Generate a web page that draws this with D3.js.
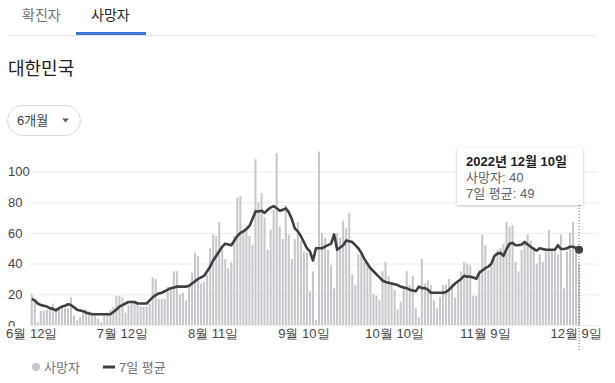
<!DOCTYPE html>
<html><head><meta charset="utf-8">
<script src="https://cdn.jsdelivr.net/npm/d3@7"></script>
<style>
body{margin:0;background:#fff;}
svg{display:block;font-family:"Liberation Sans",Arial,"Noto Sans CJK KR",sans-serif;}
</style></head><body>
<svg id="c" width="615" height="383"></svg>
<script>
// ---- data ----
const startDay = "2022-06-12";
const endDay = "2022-12-10";
const deaths = [
20,16,2,9,9,10,11,14,11,11,13,11,11,18,6,3,5,8,10,9,
8,8,4,2,6,8,10,12,19,19,18,8,13,16,15,13,12,12,12,14,
31,30,17,17,17,25,24,35,35,20,21,16,26,34,47,45,27,28,33,50,
59,58,67,49,43,37,41,58,83,84,61,65,58,52,108,80,86,70,49,62,
75,112,64,56,78,59,43,56,67,55,48,47,22,35,3,113,60,57,49,39,
24,60,57,68,63,73,33,26,46,46,41,40,38,20,19,16,35,41,32,28,
23,10,15,25,35,26,32,11,5,43,27,29,26,16,11,18,26,26,30,27,
18,29,35,41,40,39,19,19,36,59,52,36,40,43,49,50,53,67,64,65,
41,35,49,55,59,55,51,40,46,41,48,62,49,48,46,59,24,48,60,67,
50,40];
const avg7 = [
17,16,14,13,12.5,12,11,10.5,9.5,11,12,12.5,13.5,13,11.5,10,9.5,9,8,7.5,
7,7,7,7,7,7,7,8.5,10,12,13,14,15,15,15,14,14,14,14,16,
18,19.5,20.5,21,22,23,24,24.5,25,25,25,25,25.5,27,28.5,30,31,32,35,38,
42,45,48,51,53,52.5,52,55,58,60,61,62.5,64.5,69,74,74,74.5,73,75,76.5,
77.5,76,74.5,75,76,73.5,69,63,61,58,54,50,48,42,50,50,50,51,52,53,
59,49,50.5,52,55,54.5,54,52,50,47,43,40,37,35,33,31,29,28,27.5,27,
26.5,26,25,24.5,24,23,22.5,22,25,24,24,23,21,21,21,21,21,21.5,23,25,
27,28.5,30,32,31.5,31.5,31,30,34,35.5,37,38,40,45,46.5,47,45,49.5,53,53.5,
52,52,52.5,54,52.5,51,49.5,48.5,50,49.5,49,49,49,49,52,49.5,49.5,50,51,51,
50,49];
const xTickDates = ["2022-06-12","2022-07-12","2022-08-11","2022-09-10","2022-10-10","2022-11-09","2022-12-09"];
const xTickLabels = ["6월 12일","7월 12일","8월 11일","9월 10일","10월 10일","11월 9일","12월 9일"];
const yTicks = [0,20,40,60,80,100];
const tabLabels = ["확진자","사망자"];
const titleText = "대한민국";
const rangeLabel = "6개월";
const legendLabels = ["사망자","7일 평균"];
const tipLines = ["2022년 12월 10일","사망자: 40","7일 평균: 49"];

// ---- drawing ----
const parse = d3.timeParse("%Y-%m-%d");
const days = d3.timeDay.range(parse(startDay), d3.timeDay.offset(parse(endDay),1));
const svg = d3.select("#c");
svg.append("rect").attr("width",615).attr("height",383).attr("fill","#fff");

// tabs
const tabs = svg.append("g");
tabs.append("line").attr("x1",8).attr("x2",596).attr("y1",35.5).attr("y2",35.5).attr("stroke","#e6e6e6");
tabs.append("rect").attr("x",76).attr("y",32).attr("width",70).attr("height",3).attr("fill","#3a77d9");
tabs.selectAll("text").data(tabLabels).join("text")
  .attr("x",(d,i)=>[22,91][i]).attr("y",15).attr("dy","0.35em")
  .attr("font-size",14).attr("fill",(d,i)=>i? "#202124":"#70757a").text(d=>d);

svg.append("text").attr("x",8).attr("y",69).attr("dy","0.35em").attr("font-size",18)
  .attr("fill","#202124").text(titleText);

// range button
svg.append("rect").attr("x",7.5).attr("y",105.5).attr("width",73).attr("height",30).attr("rx",15)
  .attr("fill","#fff").attr("stroke","#dadce0");
svg.append("text").attr("x",17).attr("y",120.5).attr("dy","0.35em").attr("font-size",13)
  .attr("fill","#3c4043").text(rangeLabel);
svg.append("path").attr("d","M62,118.5 L69,118.5 L65.5,122.5 Z").attr("fill","#5f6368");

// scales
const x = d3.scaleBand().domain(days.map(d=>+d)).range([30.2,580.6]).paddingInner(0.33).paddingOuter(0.165);
const y = d3.scaleLinear().domain([0,100]).range([325,171.5]);
const cx = i => x(+days[i]) + x.bandwidth()/2;

// grid + y labels
const gy = svg.append("g").attr("transform","translate(30,0)")
  .call(d3.axisLeft(y).tickValues(yTicks).tickSize(-568).tickPadding(22));
gy.select(".domain").remove();
gy.selectAll(".tick line").attr("stroke","#ececec");
gy.selectAll(".tick text").attr("text-anchor","start").attr("font-size",13).attr("fill","#444")
  .attr("font-family","Liberation Sans, Arial, sans-serif");

// bars
svg.append("g").selectAll("rect").data(deaths).join("rect")
  .attr("x",(d,i)=>x(+days[i])).attr("width",x.bandwidth())
  .attr("y",d=>y(d)).attr("height",d=>y(0)-y(d)).attr("fill","#c4c7cb");

// 7-day line
const line = d3.line().x((d,i)=>cx(i)).y(d=>y(d));
svg.append("path").datum(avg7).attr("d",line).attr("fill","none")
  .attr("stroke","#3c4043").attr("stroke-width",2.6).attr("stroke-linejoin","round");

// mask under plot (clips the "0")
svg.append("rect").attr("x",0).attr("y",326.5).attr("width",615).attr("height",22).attr("fill","#fff");

// x axis
const gx = svg.append("g").attr("transform","translate(0,326)")
  .call(d3.axisBottom(x).tickValues(xTickDates.map(d=>+parse(d))).tickSize(0).tickPadding(3)
    .tickFormat((d,i)=>xTickLabels[i]));
gx.select(".domain").remove();
gx.selectAll(".tick text").attr("font-size",13).attr("fill","#444");

// hover line + point
const last = deaths.length-1;
svg.append("line").attr("x1",cx(last)).attr("x2",cx(last)).attr("y1",205).attr("y2",352)
  .attr("stroke","#5f6368").attr("stroke-dasharray","1,2");
svg.append("circle").attr("cx",cx(last)).attr("cy",y(avg7[last])).attr("r",4).attr("fill","#3c4043");

// tooltip
const defs = svg.append("defs");
const f = defs.append("filter").attr("id","sh").attr("x","-20%").attr("y","-20%").attr("width","140%").attr("height","150%");
f.append("feDropShadow").attr("dx",0).attr("dy",1).attr("stdDeviation",1.5).attr("flood-color","#000").attr("flood-opacity",0.25);
svg.append("rect").attr("x",457).attr("y",148).attr("width",126).attr("height",57)
  .attr("fill","#fff").attr("filter","url(#sh)");
svg.append("g").selectAll("text").data(tipLines).join("text")
  .attr("x",466).attr("y",(d,i)=>161+i*16).attr("dy","0.35em").attr("font-size",13)
  .attr("font-weight",(d,i)=>i?"normal":"bold").attr("fill",(d,i)=>i?"#5f6368":"#202124").text(d=>d);

// legend
const lg = svg.append("g");
lg.append("circle").attr("cx",36).attr("cy",367).attr("r",4).attr("fill","#c4c7cb");
lg.append("text").attr("x",44).attr("y",367).attr("dy","0.35em").attr("font-size",13).attr("fill","#70757a").text(legendLabels[0]);
lg.append("line").attr("x1",103).attr("x2",115).attr("y1",367).attr("y2",367).attr("stroke","#3c4043").attr("stroke-width",3);
lg.append("text").attr("x",119).attr("y",367).attr("dy","0.35em").attr("font-size",13).attr("fill","#70757a").text(legendLabels[1]);
</script>
</body></html>
